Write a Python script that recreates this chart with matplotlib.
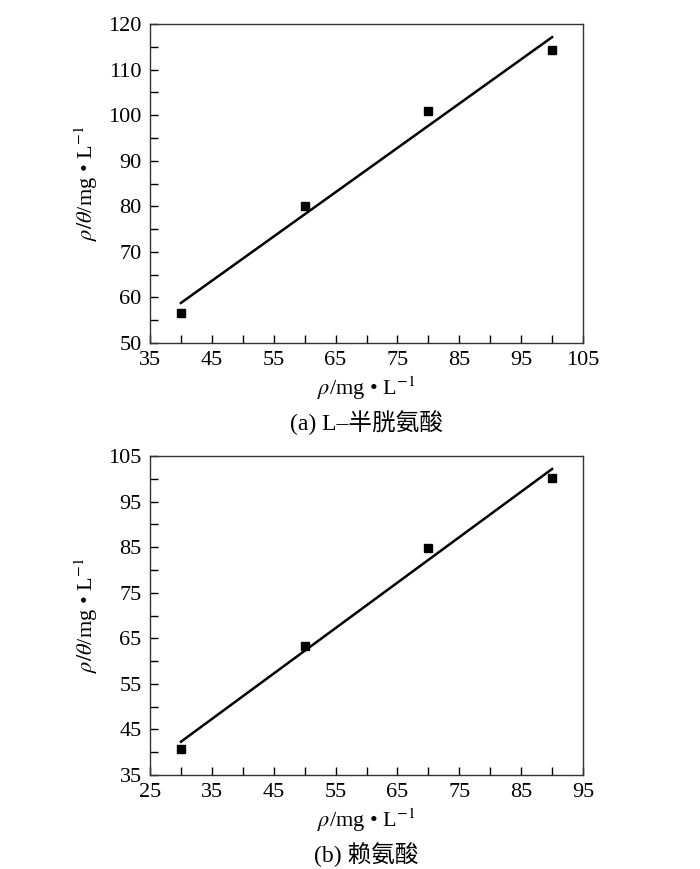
import numpy as np
import matplotlib
matplotlib.use('Agg')
import matplotlib.pyplot as plt
from matplotlib.ticker import MultipleLocator

plt.rcParams['font.family'] = ['Liberation Serif', 'Noto Sans CJK SC']
plt.rcParams['mathtext.fontset'] = 'stix'

# (a) L-半胱氨酸
x_a = [40, 60, 80, 100]
y_a = [56.5, 80.0, 101.0, 114.3]
# (b) 赖氨酸
x_b = [30, 50, 70, 90]
y_b = [40.8, 63.2, 84.8, 100.1]

captions = ['(a) L\u2013半胱氨酸', '(b) 赖氨酸']
xlims = [(35, 105), (25, 95)]
ylims = [(50, 120), (35, 105)]
y_offsets = [0, 5]

fig = plt.figure(figsize=(7, 8.69), dpi=100)
W, H = 700, 869
boxes = [(150, 24, 583, 343), (150, 456, 583, 775)]
data = [(x_a, y_a), (x_b, y_b)]

for i, (l, t, r, b) in enumerate(boxes):
    ax = fig.add_axes([l / W, 1 - b / H, (r - l) / W, (b - t) / H])
    xs, ys = data[i]
    k, c = np.polyfit(xs, ys, 1)
    xx = np.array([xs[0], xs[-1]])
    ax.plot(xx, k * xx + c, color='black', lw=1.8)
    ax.plot(xs, ys, 's', color='black', ms=6)
    ax.set_xlim(*xlims[i])
    ax.set_ylim(*ylims[i])
    ax.xaxis.set_major_locator(MultipleLocator(10, offset=5))
    ax.xaxis.set_minor_locator(MultipleLocator(5))
    ax.yaxis.set_major_locator(MultipleLocator(10, offset=y_offsets[i]))
    ax.yaxis.set_minor_locator(MultipleLocator(5))
    ax.tick_params(which='both', direction='in', length=6, width=1,
                   top=False, right=False, labelsize=16, pad=6)
    for s in ax.spines.values():
        s.set_linewidth(1)
        s.set_color('#333333')
    ax.set_ylabel(r'$\rho/\theta$/mg • L$^{-1}$', fontsize=16, labelpad=6)
    ax.set_xlabel(r'$\rho$/mg • L$^{-1}$', fontsize=16, labelpad=3)
    fig.text((l + r) / 2 / W, 1 - (b + 80) / H, captions[i],
             ha='center', va='center', fontsize=17)

fig.savefig('out.png', dpi=100)
